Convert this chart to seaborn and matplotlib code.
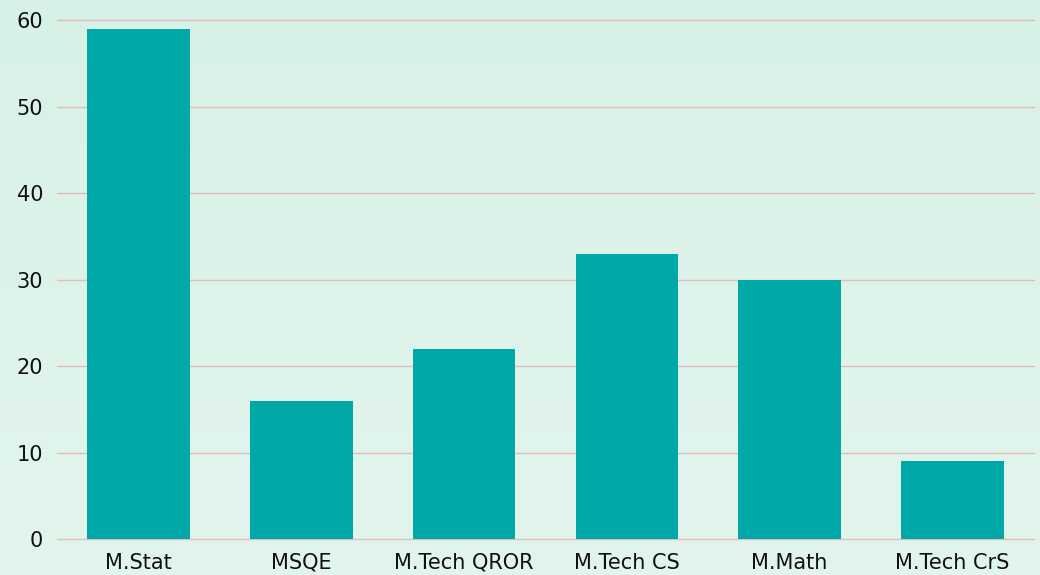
import numpy as np
import pandas as pd
import matplotlib
matplotlib.use('Agg')
import matplotlib.pyplot as plt
import seaborn as sns

# Data
programs = ['M.Stat', 'MSQE', 'M.Tech QROR', 'M.Tech CS', 'M.Math', 'M.Tech CrS']
counts = [59, 16, 22, 33, 30, 9]

df = pd.DataFrame({'Program': programs, 'Count': counts})

sns.set_style('white')
plt.rcParams['font.family'] = ['DejaVu Sans']

fig = plt.figure(figsize=(10.4, 5.75), dpi=100)

# soft mint gradient behind everything
bg = fig.add_axes([0, 0, 1, 1], zorder=-10)
grad = np.linspace(0, 1, 256).reshape(-1, 1)
top = np.array([0.847, 0.945, 0.902])
bottom = np.array([0.886, 0.961, 0.929])
img = top + (bottom - top) * grad[:, :, None]
bg.imshow(img, aspect='auto', extent=[0, 1, 0, 1])
bg.axis('off')

ax = fig.add_axes([0.055, 0.0626, 0.939, 0.9026])
ax.patch.set_alpha(0)

sns.barplot(data=df, x='Program', y='Count', color='#00a8a8', width=0.63,
            saturation=1, linewidth=0, ax=ax, zorder=3)

ax.set_ylim(0, 60)
ax.set_xlim(-0.5, 5.5)
ax.set_yticks(range(0, 61, 10))
ax.yaxis.grid(True, color='#e2bcbc', linewidth=1, zorder=0)
for gl in ax.get_ygridlines():
    gl.set_clip_on(False)
ax.set_axisbelow(True)
for s in ax.spines.values():
    s.set_visible(False)
ax.tick_params(axis='both', length=0, labelsize=15, colors='#111111')
ax.tick_params(axis='y', pad=10)
ax.tick_params(axis='x', pad=10)
ax.set_xlabel('')
ax.set_ylabel('')

fig.savefig('out.png', dpi=100)
